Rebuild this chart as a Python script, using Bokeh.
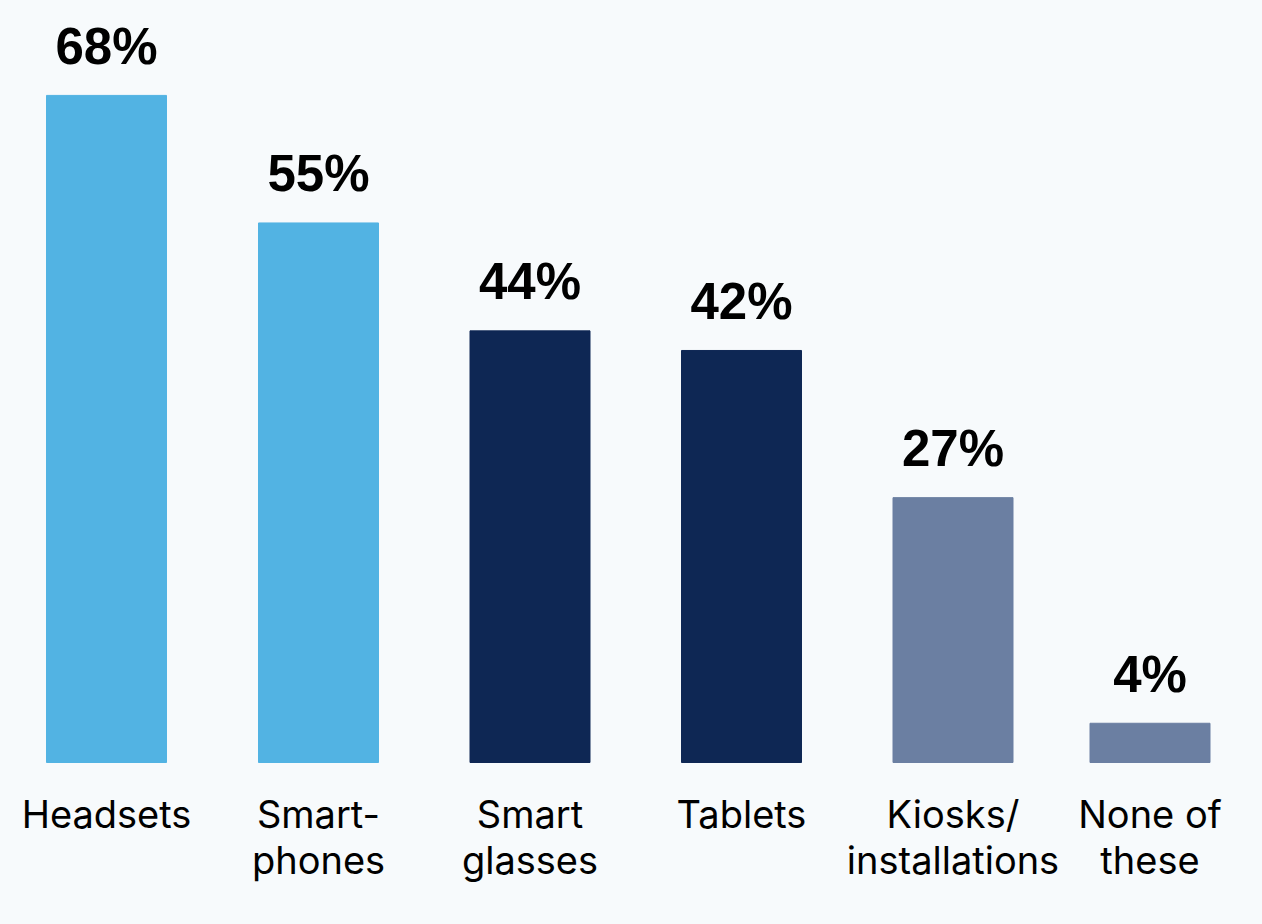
from bokeh.plotting import figure
from bokeh.models import ColumnDataSource, Range1d
from bokeh.core.properties import value
from bokeh.embed import file_html
from bokeh.resources import INLINE

# ---- data ----
categories = ["Headsets", "Smart-\nphones", "Smart\nglasses", "Tablets",
              "Kiosks/\ninstallations", "None of\nthese"]
values = [68, 55, 44, 42, 27, 4]
value_labels = ["68%", "55%", "44%", "42%", "27%", "4%"]
groups = ["blue", "blue", "navy", "navy", "slate", "slate"]

# ---- layout / style ----
slot_centers = [106, 318, 529.5, 741, 952.5, 1149.5]
bar_width = 120
palette = {"blue": "#52b3e3", "navy": "#0e2754", "slate": "#6b7fa2"}
BG = "#f7fafc"

W, H = 1246, 908
px_per_unit = 9.81
baseline_from_top = 754

src = ColumnDataSource(dict(
    x=slot_centers, top=values, cat=categories, lab=value_labels,
    color=[palette[g] for g in groups],
))

p = figure(width=W, height=H, output_backend="svg", toolbar_location=None,
           x_range=Range1d(8, 8 + W),
           y_range=Range1d(-(H - baseline_from_top) / px_per_unit,
                           baseline_from_top / px_per_unit),
           min_border=0)
p.axis.visible = False
p.grid.visible = False
p.outline_line_color = None
p.background_fill_color = BG
p.border_fill_color = BG

p.vbar(x="x", top="top", bottom=0, width=bar_width, color="color", source=src)

p.text(x="x", y="top", text="lab", source=src, text_align="center",
       text_baseline="alphabetic", y_offset=-49,
       text_font=value("Liberation Sans"), text_font_style="bold",
       text_font_size="51px", text_color="#000000")

p.text(x="x", y=0, text="cat", source=src, text_align="center",
       text_baseline="top", y_offset=28, text_line_height=1.0,
       text_font=value("Inter"), text_font_size="38px", text_color="#000000")

html = file_html(p, INLINE)
html = html.replace("</head>", "<style>body{background:%s;margin:8px}</style></head>" % BG, 1)
open("out.html", "w").write(html)
